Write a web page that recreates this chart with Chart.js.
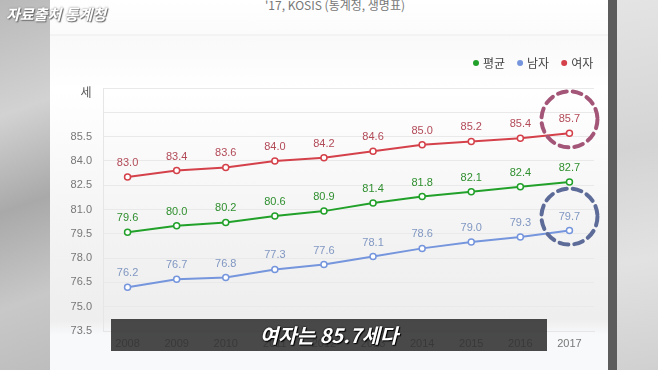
<!DOCTYPE html>
<html>
<head>
<meta charset="utf-8">
<script src="https://cdn.jsdelivr.net/npm/chart.js@4.4.1/dist/chart.umd.min.js"></script>
<style>
  body { margin: 0; width: 658px; height: 370px; overflow: hidden; position: relative; background: #d6d6d6; font-family: "Noto Sans CJK KR", sans-serif; }
  #leftBg { position: absolute; left: 0; top: 0; width: 50px; height: 370px; background: linear-gradient(160deg, #b9b9b9 0%, #d2d2d2 30%, #a9a9a9 55%, #c8c8c8 80%, #bdbdbd 100%); }
  #panel { position: absolute; left: 50px; top: 0; width: 558px; height: 370px;
    background: linear-gradient(#ffffff 0px, #fbfbfb 34px, #ececec 35px, #f9f9f9 36px, #ffffff 90px, #f2f2f2 250px, #eeeeee 320px, #f8f9fb 335px, #f8f9fb 370px); }
  #bar { position: absolute; left: 608px; top: 0; width: 9px; height: 370px; background: #5c5c5c; }
  #rightBg { position: absolute; left: 617px; top: 0; width: 41px; height: 370px; background: linear-gradient(170deg, #e4e4e4 0%, #d4d4d4 40%, #e2e2e2 70%, #d0d0d0 100%); }
  #source { position: absolute; left: 6px; top: 3px; font-size: 15px; font-weight: bold; font-style: italic; color: #fff;
    text-shadow: 0 0 2px #777, 1px 1px 1px #666; }
  #title { position: absolute; left: 0; width: 658px; top: -4px; text-align: center; font-size: 12px; color: #777; padding-left: 6px; }
  #chartBox { position: absolute; left: 0; top: 0; width: 658px; height: 370px; }
  #caption { position: absolute; left: 111px; top: 319px; width: 436px; height: 32px; background: rgba(48, 48, 48, 0.88);
    color: #fff; text-align: center; font-size: 20px; font-weight: bold; font-style: italic; line-height: 32px;
    text-shadow: 0 0 2px #000, 1px 1px 1px #000; }
</style>
</head>
<body>
<div id="leftBg"></div>
<div id="panel"></div>
<div id="bar"></div>
<div id="rightBg"></div>
<div id="title">'17, KOSIS (통계청, 생명표)</div>
<div id="chartBox"><canvas id="lifeChart" width="658" height="370"></canvas></div>
<div id="source">자료출처 통계청</div>
<div id="caption">여자는 85.7세다</div>
<script>
// data
const years = ["2008", "2009", "2010", "2011", "2012", "2013", "2014", "2015", "2016", "2017"];
const avgValues = [79.6, 80.0, 80.2, 80.6, 80.9, 81.4, 81.8, 82.1, 82.4, 82.7];
const maleValues = [76.2, 76.7, 76.8, 77.3, 77.6, 78.1, 78.6, 79.0, 79.3, 79.7];
const femaleValues = [83.0, 83.4, 83.6, 84.0, 84.2, 84.6, 85.0, 85.2, 85.4, 85.7];
const seriesNames = ["평균", "남자", "여자"];

const lineColors = ["#22a12a", "#7595dd", "#d4414a"];
const labelColors = ["#2f8f2f", "#8097c2", "#b24a58"];

// value labels above each point
const valueLabels = {
  id: "valueLabels",
  afterDatasetsDraw(chart) {
    const ctx = chart.ctx;
    ctx.save();
    ctx.font = "11px 'Liberation Sans', sans-serif";
    ctx.textAlign = "center";
    ctx.textBaseline = "middle";
    chart.data.datasets.forEach((ds, i) => {
      const meta = chart.getDatasetMeta(i);
      ctx.fillStyle = labelColors[i];
      meta.data.forEach((pt, j) => {
        ctx.fillText(ds.data[j].toFixed(1), pt.x, pt.y - 14);
      });
    });
    ctx.restore();
  }
};

// dashed circles around the last female and male values
const highlightRings = {
  id: "highlightRings",
  afterDraw(chart) {
    const ctx = chart.ctx;
    const rings = [[2, "#a35677"], [1, "#5d6b98"]];
    ctx.save();
    ctx.lineWidth = 4;
    ctx.setLineDash([9, 6]);
    ctx.lineCap = "round";
    rings.forEach(([idx, color]) => {
      const meta = chart.getDatasetMeta(idx);
      const pt = meta.data[meta.data.length - 1];
      ctx.strokeStyle = color;
      ctx.beginPath();
      ctx.arc(pt.x, pt.y - 14, 28, 0, Math.PI * 2);
      ctx.stroke();
    });
    ctx.restore();
  }
};

// small legend in the top right corner, plus the unit label
const topLegend = {
  id: "topLegend",
  afterDraw(chart) {
    const c = chart.ctx;
    c.save();
    c.font = "12px 'Noto Sans CJK KR', sans-serif";
    c.textBaseline = "middle";
    let x = 476;
    const y = 63;
    chart.data.datasets.forEach((ds, i) => {
      c.fillStyle = lineColors[i];
      c.beginPath();
      c.arc(x, y, 3, 0, Math.PI * 2);
      c.fill();
      c.fillStyle = "#444";
      c.textAlign = "left";
      c.fillText(ds.label, x + 7, y);
      x += 7 + c.measureText(ds.label).width + 15;
    });
    c.fillStyle = "#555";
    c.textAlign = "center";
    c.fillText("세", chart.scales.y.right - 17, 92);
    c.restore();
  }
};

const ctx = document.getElementById("lifeChart").getContext("2d");
new Chart(ctx, {
  type: "line",
  data: {
    labels: years,
    datasets: [avgValues, maleValues, femaleValues].map((vals, i) => ({
      label: seriesNames[i],
      data: vals,
      borderColor: lineColors[i],
      backgroundColor: lineColors[i],
      borderWidth: 2,
      pointRadius: 3,
      pointBorderWidth: 1.5,
      pointBackgroundColor: "#ffffff",
      pointBorderColor: lineColors[i],
      tension: 0
    }))
  },
  options: {
    responsive: false,
    animation: false,
    layout: { padding: { left: 50, right: 64, top: 88, bottom: 0 } },
    plugins: {
      tooltip: { enabled: false },
      legend: { display: false }
    },
    scales: {
      x: {
        offset: true,
        grid: { display: false, drawTicks: false },
        border: { display: true, color: "#e6e6e6" },
        ticks: { color: "#777", padding: 6, font: { size: 11, family: "'Liberation Sans', sans-serif" } },
        afterFit(scale) { scale.height = 39; }
      },
      y: {
        min: 73.5,
        max: 88.5,
        grid: { color: "#e9e9e9", drawTicks: false },
        border: { display: true, color: "#e6e6e6" },
        ticks: {
          stepSize: 1.5,
          padding: 11,
          color: "#777",
          font: { size: 11, family: "'Liberation Sans', sans-serif" },
          callback: (v) => (v > 85.6 ? "" : v.toFixed(1))
        },
        afterFit(scale) { scale.width = 53; }
      }
    }
  },
  plugins: [valueLabels, highlightRings, topLegend]
});
</script>
</body>
</html>
